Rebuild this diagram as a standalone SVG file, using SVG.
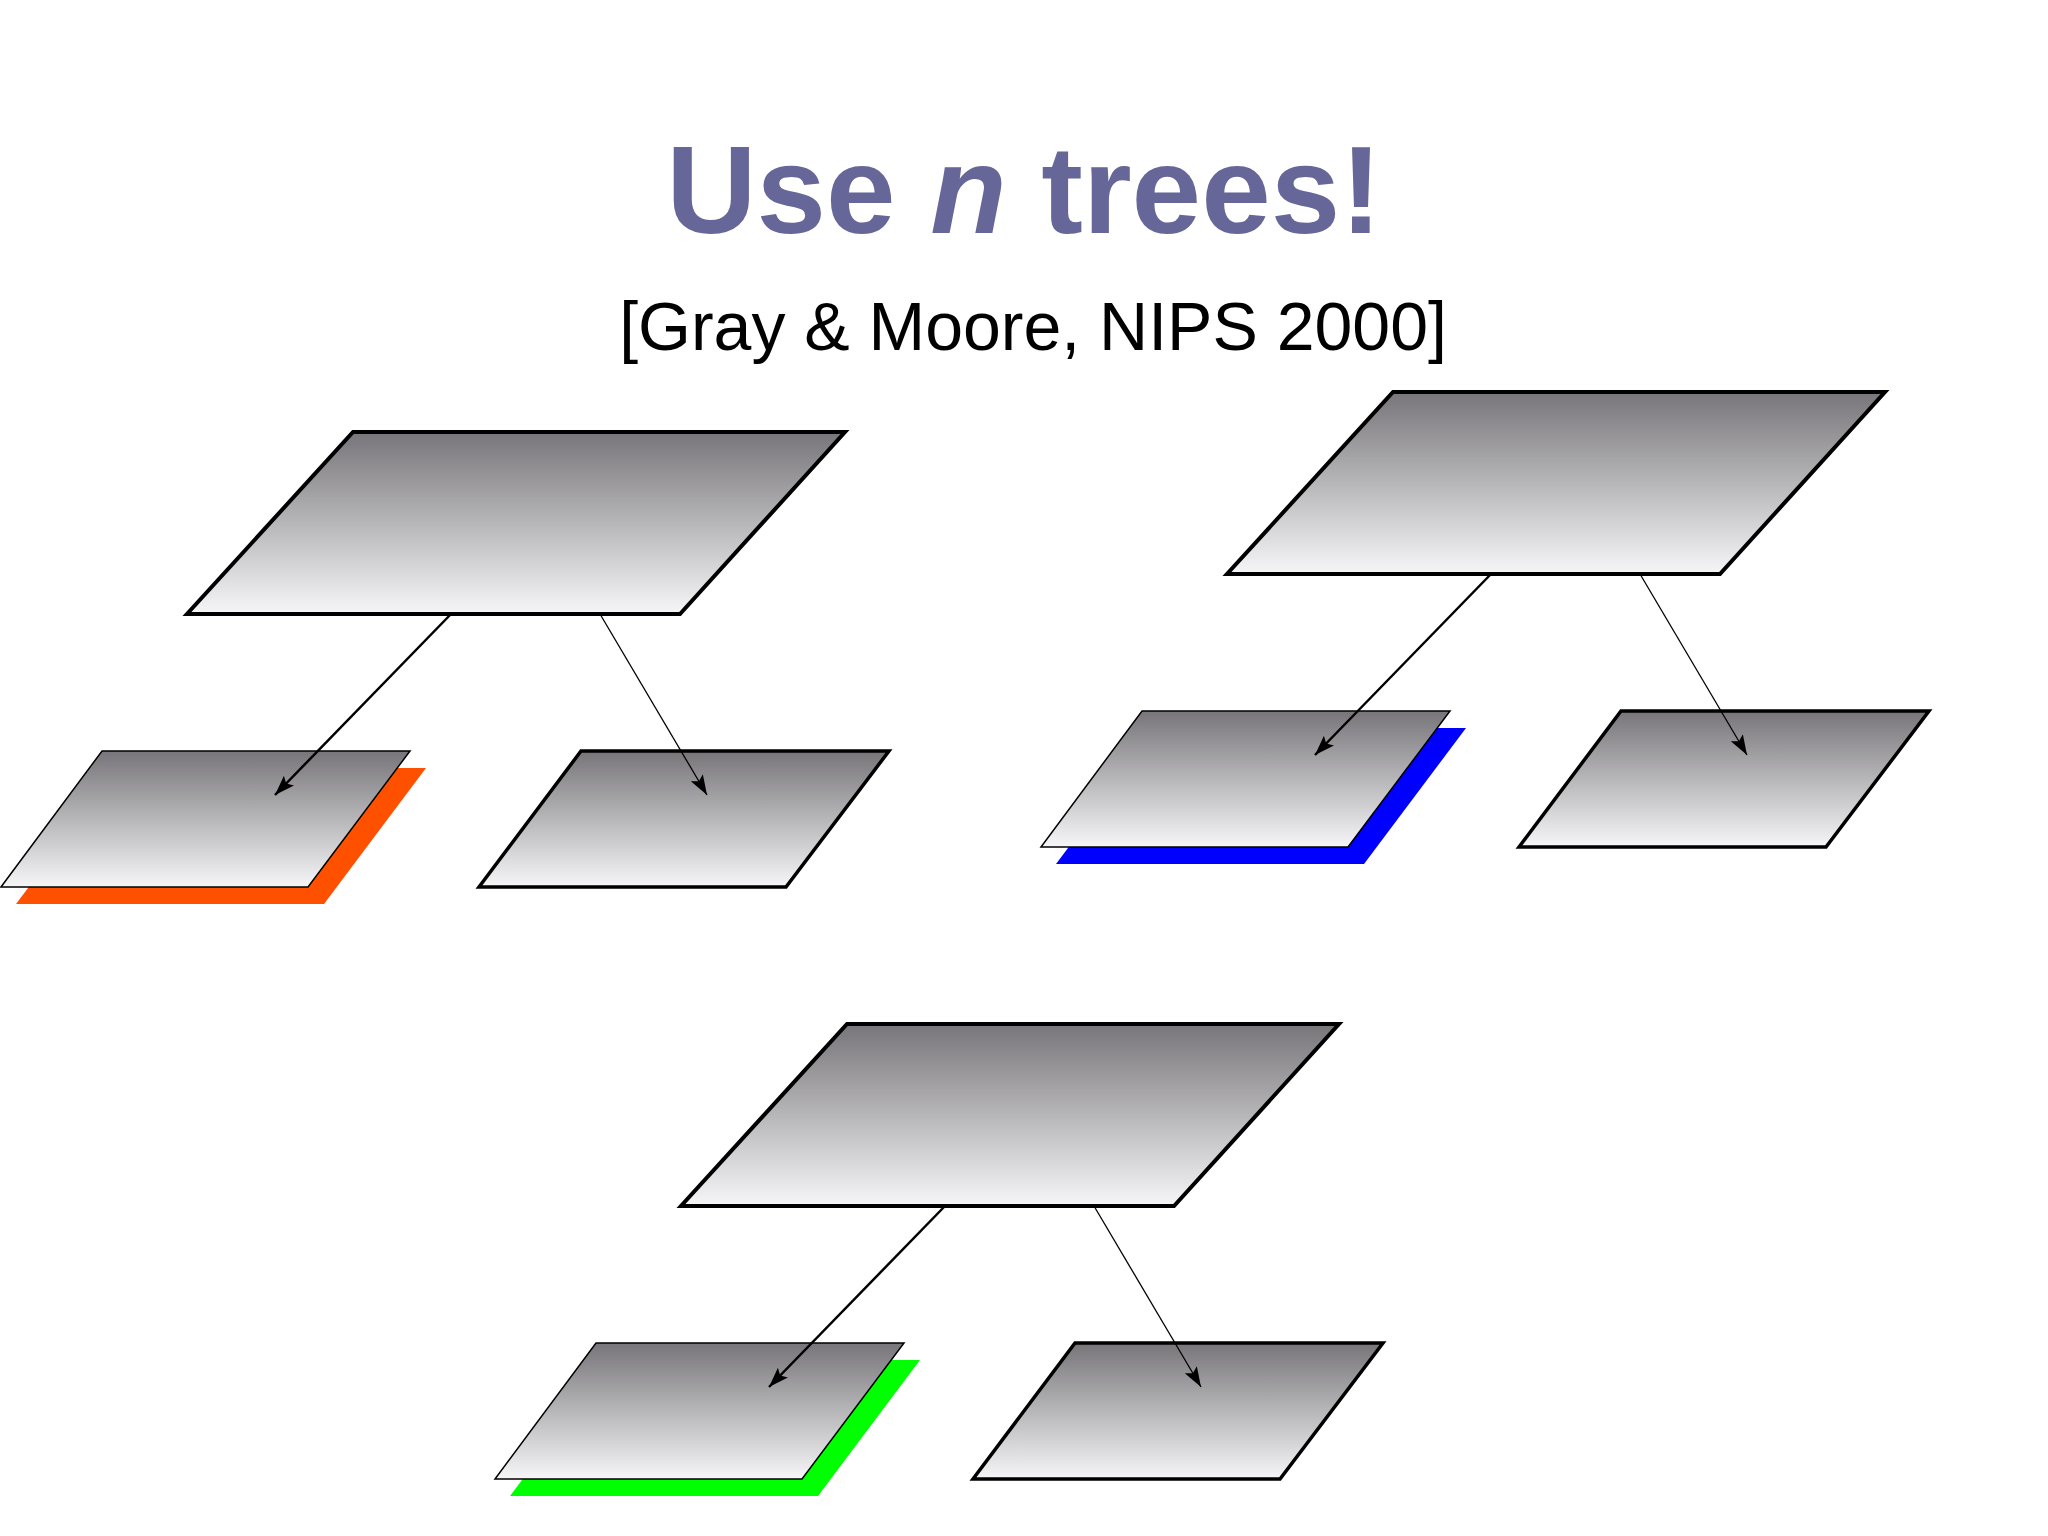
<svg xmlns="http://www.w3.org/2000/svg" width="2048" height="1536" viewBox="0 0 2048 1536">
<defs>
<linearGradient id="g" x1="0" y1="0" x2="0" y2="1">
<stop offset="0" stop-color="#777579"/>
<stop offset="1" stop-color="#f6f6f8"/>
</linearGradient>
<marker id="ah" markerUnits="userSpaceOnUse" markerWidth="22" markerHeight="16" refX="20" refY="7" orient="auto">
<path d="M0,0 L20,7 L0,14 L4,7 z" fill="#000"/>
</marker>
<style>
.top{fill:url(#g);stroke:#000;stroke-width:4;stroke-linejoin:miter}
.lc{fill:url(#g);stroke:#000;stroke-width:1.5}
.rc{fill:url(#g);stroke:#000;stroke-width:3.5}
.a1{stroke:#000;stroke-width:2.5;fill:none;marker-end:url(#ah)}
.a2{stroke:#000;stroke-width:1.3;fill:none;marker-end:url(#ah)}
.title{font-family:"Liberation Sans",Arial,sans-serif;font-weight:bold;font-size:125px;fill:#666699}
.sub{font-family:"Liberation Sans",Arial,sans-serif;font-size:68px;fill:#000}
</style>
</defs>
<rect width="2048" height="1536" fill="#fff"/>
<g id="title">
<text class="title" x="1024" y="233" text-anchor="middle">Use <tspan font-style="italic">n</tspan> trees!</text>
<text class="sub" x="1033" y="350" text-anchor="middle">[Gray &amp; Moore, NIPS 2000]</text>
</g>

<g id="tree1">
<g id="t1-root"><polygon class="top" points="353,432 845,432 680,614 187,614"/></g>
<g id="t1-left"><polygon points="118,768 426,768 324,904 16,904" fill="#ff5000"/><polygon class="lc" points="102,751 410,751 308,887 1,887"/></g>
<g id="t1-right"><polygon class="rc" points="581,751 889,751 786,887 479,887"/></g>
<g id="t1-connectors"><line class="a1" x1="451" y1="614" x2="275" y2="795"/><line class="a2" x1="600" y1="614" x2="707" y2="795"/></g>
</g>

<g id="tree2" transform="translate(1040,-40)">
<g id="t2-root"><polygon class="top" points="353,432 845,432 680,614 187,614"/></g>
<g id="t2-left"><polygon points="118,768 426,768 324,904 16,904" fill="#0000ff"/><polygon class="lc" points="102,751 410,751 308,887 1,887"/></g>
<g id="t2-right"><polygon class="rc" points="581,751 889,751 786,887 479,887"/></g>
<g id="t2-connectors"><line class="a1" x1="451" y1="614" x2="275" y2="795"/><line class="a2" x1="600" y1="614" x2="707" y2="795"/></g>
</g>

<g id="tree3" transform="translate(494,592)">
<g id="t3-root"><polygon class="top" points="353,432 845,432 680,614 187,614"/></g>
<g id="t3-left"><polygon points="118,768 426,768 324,904 16,904" fill="#00ff00"/><polygon class="lc" points="102,751 410,751 308,887 1,887"/></g>
<g id="t3-right"><polygon class="rc" points="581,751 889,751 786,887 479,887"/></g>
<g id="t3-connectors"><line class="a1" x1="451" y1="614" x2="275" y2="795"/><line class="a2" x1="600" y1="614" x2="707" y2="795"/></g>
</g>
</svg>
